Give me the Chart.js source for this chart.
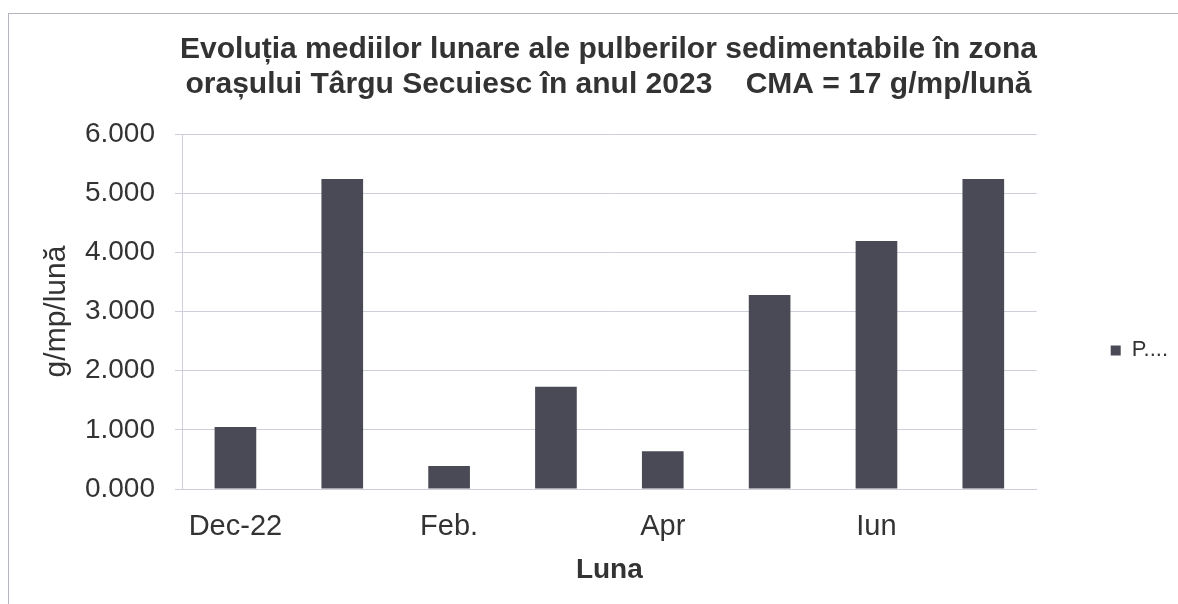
<!DOCTYPE html>
<html>
<head>
<meta charset="utf-8">
<script src="https://cdn.jsdelivr.net/npm/chart.js@4/dist/chart.umd.min.js"></script>
<style>
    html, body { margin: 0; padding: 0; background: #ffffff; }
    #wrap { position: relative; width: 1178px; height: 604px; overflow: hidden; }
    #frame { position: absolute; left: 8px; top: 13px; width: 1200px; height: 620px; border: 1px solid #b4b4bc; pointer-events: none; }
</style>
</head>
<body>
<div id="wrap">
    <canvas id="chart" width="1178" height="604"></canvas>
    <div id="frame"></div>
</div>
<script>
// Données
const luni = ['Dec-22', 'Ian', 'Feb.', 'Mar', 'Apr', 'Mai', 'Iun', 'Iul'];
const valori = [1.05, 5.24, 0.39, 1.73, 0.64, 3.28, 4.19, 5.24];
const yTicks = [0, 1, 2, 3, 4, 5, 6];
const titlu = ['Evoluția mediilor lunare ale pulberilor sedimentabile în zona',
               'orașului Târgu Secuiesc în anul 2023    CMA = 17 g/mp/lună'];

const barColor = '#4a4a56';
const gridColor = '#cfcfdc';
const textColor = '#333333';

Chart.defaults.font.family = "'Liberation Sans', Arial, sans-serif";
Chart.defaults.color = textColor;

new Chart(document.getElementById('chart'), {
    type: 'bar',
    data: {
        labels: luni,
        datasets: [{
            label: 'P....',
            data: valori,
            backgroundColor: barColor,
            borderWidth: 0,
            categoryPercentage: 1,
            barPercentage: 0.39
        }]
    },
    options: {
        responsive: false,
        animation: false,
        layout: { padding: { left: 39, right: 0, top: 0, bottom: 0 } },
        plugins: {
            title: {
                display: true,
                text: titlu,
                font: { size: 30, weight: 'bold', lineHeight: 1.167 },
                color: textColor,
                padding: { top: 32, bottom: 32 }
            },
            legend: {
                position: 'right',
                align: 'start',
                // titre vide : sert seulement à descendre l'entrée de légende
                title: { display: true, text: ' ', padding: { top: 251, bottom: 0 } },
                labels: {
                    boxWidth: 10,
                    boxHeight: 10,
                    padding: 74,
                    font: { size: 22 },
                    color: textColor
                }
            },
            tooltip: { enabled: false }
        },
        scales: {
            y: {
                min: 0,
                max: 6,
                afterBuildTicks: (scale) => { scale.ticks = yTicks.map(v => ({ value: v })); },
                afterFit: (scale) => { scale.width = 143; },
                ticks: {
                    font: { size: 28 },
                    color: textColor,
                    padding: 20,
                    callback: (v) => Number(v).toFixed(3)
                },
                grid: { color: gridColor, tickLength: 7, lineWidth: 1 },
                border: { display: true, color: gridColor },
                title: {
                    display: true,
                    text: 'g/mp/lună',
                    font: { size: 30 },
                    color: textColor,
                    padding: { top: 0, bottom: 0 }
                }
            },
            x: {
                afterFit: (scale) => { scale.height = 115; },
                grid: { display: false, tickLength: 0 },
                border: { display: true, color: gridColor },
                ticks: {
                    autoSkip: false,
                    maxRotation: 0,
                    font: { size: 29 },
                    color: textColor,
                    padding: 21,
                    callback: function (v, i) { return i % 2 === 0 ? this.getLabelForValue(v) : ''; }
                },
                title: {
                    display: true,
                    text: 'Luna',
                    font: { size: 28, weight: 'bold' },
                    color: textColor,
                    padding: { top: 0, bottom: 17 }
                }
            }
        }
    }
});
</script>
</body>
</html>
